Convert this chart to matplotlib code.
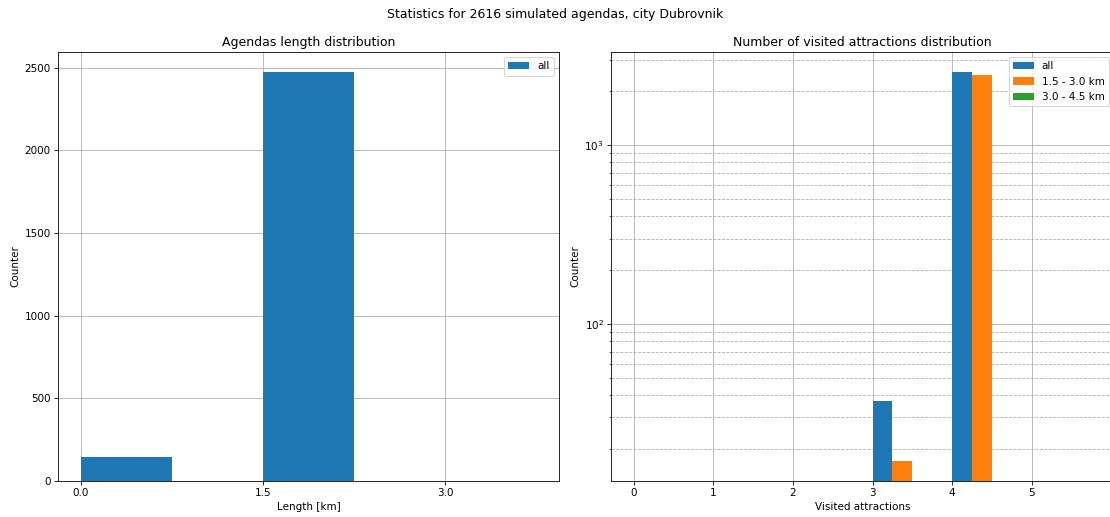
import matplotlib.pyplot as plt
import numpy as np

# Dados
length_bins = [0.0, 1.5, 3.0]
length_all = [145, 2471, 0]

visited = [0, 1, 2, 3, 4, 5]
series_names = ["all", "1.5 - 3.0 km", "3.0 - 4.5 km"]
visited_all = [0, 0, 0, 37, 2579, 0]
visited_15_30 = [0, 0, 0, 17, 2454, 0]
visited_30_45 = [0, 0, 0, 0, 0, 0]

# dpi 75 -> 1110x517 px
fig = plt.figure(figsize=(14.8, 517 / 75), dpi=75)
fig.suptitle("Statistics for 2616 simulated agendas, city Dubrovnik", y=0.985)

# Painel esquerdo: distribuicao do comprimento
ax1 = fig.add_axes([0.0523, 0.0696, 0.4514, 0.8298])
ax1.bar(length_bins, length_all, width=0.75, align='edge', label="all", zorder=2)
ax1.set_xticks(length_bins)
ax1.set_xticklabels([f"{b:.1f}" for b in length_bins])
ax1.set_title("Agendas length distribution")
ax1.set_xlabel("Length [km]")
ax1.set_ylabel("Counter")
ax1.grid(True, zorder=0)
ax1.set_axisbelow(True)
ax1.legend(loc="upper right")

# Painel direito: atracoes visitadas (escala log)
# o eixo passa um pouco da borda da figura, como no original
ax2 = fig.add_axes([0.5505, 0.0696, 0.4532, 0.8298])
x = np.array(visited)
w = 0.25
for i, (nome, vals) in enumerate(zip(series_names, [visited_all, visited_15_30, visited_30_45])):
    ax2.bar(x + i * w, vals, width=w, align='edge', label=nome, zorder=2)
ax2.set_yscale("log")
ax2.set_ylim(13.2, 3320)
ax2.set_xlim(-0.2875, 6.0375)
ax2.set_xticks(visited)
ax2.set_title("Number of visited attractions distribution")
ax2.set_xlabel("Visited attractions")
ax2.set_ylabel("Counter")
ax2.grid(True, which="major", zorder=0)
ax2.grid(True, which="minor", axis="y", linestyle="--", zorder=0)
ax2.set_axisbelow(True)
ax2.legend(loc="upper right")

fig.savefig("out.png", dpi=75)
